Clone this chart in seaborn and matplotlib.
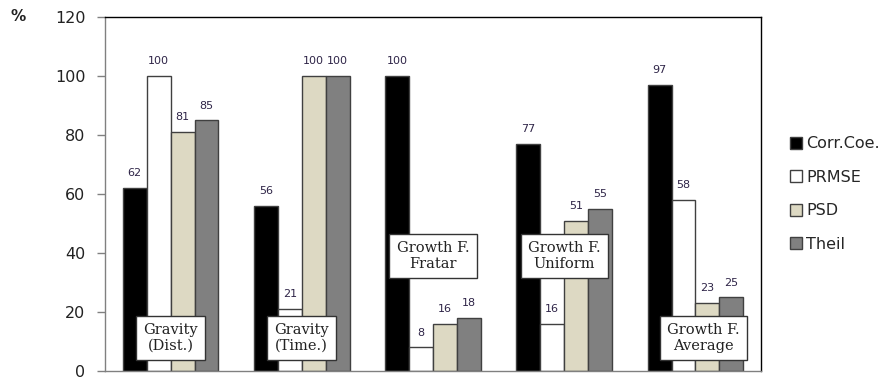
import matplotlib.pyplot as plt
import pandas as pd
import seaborn as sns

# data
groups = ["Gravity\n(Dist.)", "Gravity\n(Time.)", "Growth F.\nFratar",
          "Growth F.\nUniform", "Growth F.\nAverage"]
measures = ["Corr.Coe.", "PRMSE", "PSD", "Theil"]
corr_coe = [62, 56, 100, 77, 97]
prmse = [100, 21, 8, 16, 58]
psd = [81, 100, 16, 51, 23]
theil = [85, 100, 18, 55, 25]
y_ticks = [0, 20, 40, 60, 80, 100, 120]

colors = ["#000000", "#ffffff", "#ddd9c3", "#808080"]

rows = []
for m, vals in zip(measures, [corr_coe, prmse, psd, theil]):
    for g, v in zip(groups, vals):
        rows.append({"group": g, "measure": m, "value": v})
df = pd.DataFrame(rows)

sns.set_style("white")

fig = plt.figure(figsize=(8.85, 3.79), dpi=100)
ax = fig.add_axes([0.1186, 0.0211, 0.7414, 0.934])

sns.barplot(
    data=df,
    x="group",
    y="value",
    hue="measure",
    hue_order=measures,
    order=groups,
    palette=colors,
    saturation=1,
    width=0.73,
    edgecolor="#404040",
    linewidth=1,
    legend=True,
    ax=ax,
)

for cont, vals in zip(ax.containers, [corr_coe, prmse, psd, theil]):
    ax.bar_label(cont, labels=[str(v) for v in vals], padding=7,
                 fontsize=8, color="#2e2447", family="DejaVu Sans")

# category boxes inside the plot
box_y = [11.2, 11.2, 39, 39, 11.2]
box_dx = [0, 0, 0, 0, 0.06]
for i, (g, yv) in enumerate(zip(groups, box_y)):
    ax.text(i + box_dx[i], yv, g, ha="center", va="center",
            fontsize=10.5, family="DejaVu Serif", color="#222222",
            linespacing=1.1,
            bbox=dict(boxstyle="square,pad=0.5", fc="white", ec="#333333", lw=1))

ax.set_ylim(0, 120)
ax.set_xlim(-0.5, 4.5)
ax.set_yticks(y_ticks)
ax.set_yticklabels([str(t) for t in y_ticks], fontsize=11.5, color="#222222")
ax.set_xticks([])
ax.set_xlabel("")
ax.set_ylabel("")
ax.tick_params(axis="y", which="major", direction="out", length=6,
               width=1, color="#808080", left=True, pad=8)

ax.spines["left"].set_color("#808080")
ax.spines["bottom"].set_color("#808080")
ax.spines["top"].set_color("#000000")
ax.spines["right"].set_color("#000000")
for s in ax.spines.values():
    s.set_linewidth(1)

fig.text(0.012, 0.945, "%", fontsize=11, fontweight="bold", color="#222222")

handles, labels = ax.get_legend_handles_labels()
ax.legend_.remove()
fig.legend(handles, labels, loc="center left", bbox_to_anchor=(0.885, 0.488),
           frameon=False, fontsize=11.5, handlelength=0.8, handleheight=0.8,
           handletextpad=0.25, labelspacing=1.15, borderaxespad=0)

fig.savefig("out.png", dpi=100)
plt.close(fig)
